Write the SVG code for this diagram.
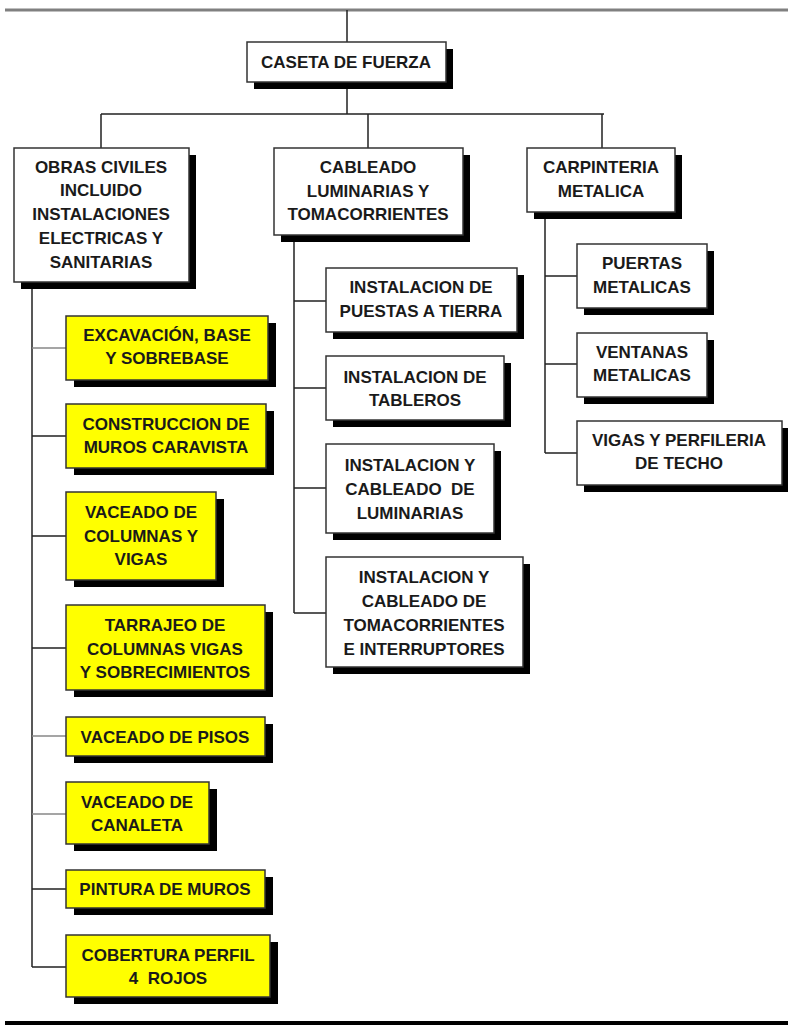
<svg xmlns="http://www.w3.org/2000/svg" width="788" height="1028" viewBox="0 0 788 1028">
<style>
.box{fill:#fff;stroke:#333;stroke-width:1.5}
.y{fill:#ffff00}
.sh{fill:#000}
.t{font-family:"Liberation Sans",Arial,sans-serif;font-weight:bold;font-size:17px;fill:#1a1a1a;text-anchor:middle}
.c{fill:none;stroke:#222;stroke-width:1.5}
.g{stroke:#888}
</style>
<rect width="788" height="1028" fill="#fff"/>
<g id="connectors">
<line x1="5" y1="10" x2="788" y2="10" stroke="#808080" stroke-width="3"/>
<line x1="5" y1="1023" x2="788" y2="1023" stroke="#000" stroke-width="4"/>
<path class="c" d="M347 10V42M347 82V114M101 114H604M101 114V148M368 114V148M602 114V148"/>
<path class="c" d="M32 282V967M32 436H66M32 536H66M32 648H66M32 889H66M32 967H66"/>
<path class="c g" d="M32 348H66M32 736H66M32 814H66"/>
<path class="c" d="M294 235V613M294 301H326M294 388H326M294 488H326M294 613H326"/>
<path class="c" d="M545 212V453M545 276H577M545 364H577M545 453H577"/>
</g>
<g id="caseta"><rect class="sh" x="254" y="49" width="199" height="40"/><rect class="box" x="247" y="42" width="199" height="40"/><text class="t" x="346" y="68">CASETA DE FUERZA</text></g>
<g id="obras"><rect class="sh" x="21" y="155" width="175" height="134"/><rect class="box" x="14" y="148" width="175" height="134"/><text class="t" x="101" y="173">OBRAS CIVILES</text><text class="t" x="101" y="196">INCLUIDO</text><text class="t" x="101" y="220">INSTALACIONES</text><text class="t" x="101" y="244">ELECTRICAS Y</text><text class="t" x="101" y="268">SANITARIAS</text></g>
<g id="cableado"><rect class="sh" x="281" y="155" width="189" height="87"/><rect class="box" x="274" y="148" width="189" height="87"/><text class="t" x="368" y="173">CABLEADO</text><text class="t" x="368" y="197">LUMINARIAS Y</text><text class="t" x="368" y="220">TOMACORRIENTES</text></g>
<g id="carpinteria"><rect class="sh" x="534" y="155" width="148" height="64"/><rect class="box" x="527" y="148" width="148" height="64"/><text class="t" x="601" y="173">CARPINTERIA</text><text class="t" x="601" y="197">METALICA</text></g>
<g id="excavacion"><rect class="sh" x="74" y="323" width="202" height="64"/><rect class="box y" x="66" y="316" width="202" height="64"/><text class="t" x="167" y="341">EXCAVACIÓN, BASE</text><text class="t" x="167" y="364">Y SOBREBASE</text></g>
<g id="construccion"><rect class="sh" x="74" y="411" width="200" height="64"/><rect class="box y" x="66" y="404" width="200" height="64"/><text class="t" x="166" y="430">CONSTRUCCION DE</text><text class="t" x="166" y="453">MUROS CARAVISTA</text></g>
<g id="vaceado-columnas"><rect class="sh" x="74" y="499" width="150" height="88"/><rect class="box y" x="66" y="492" width="150" height="88"/><text class="t" x="141" y="518">VACEADO DE</text><text class="t" x="141" y="542">COLUMNAS Y</text><text class="t" x="141" y="565">VIGAS</text></g>
<g id="tarrajeo"><rect class="sh" x="74" y="612" width="199" height="85"/><rect class="box y" x="66" y="605" width="199" height="85"/><text class="t" x="165" y="631">TARRAJEO DE</text><text class="t" x="165" y="655">COLUMNAS VIGAS</text><text class="t" x="165" y="678">Y SOBRECIMIENTOS</text></g>
<g id="pisos"><rect class="sh" x="74" y="724" width="199" height="39"/><rect class="box y" x="66" y="717" width="199" height="39"/><text class="t" x="165" y="743">VACEADO DE PISOS</text></g>
<g id="canaleta"><rect class="sh" x="74" y="789" width="143" height="62"/><rect class="box y" x="66" y="782" width="143" height="62"/><text class="t" x="137" y="808">VACEADO DE</text><text class="t" x="137" y="831">CANALETA</text></g>
<g id="pintura"><rect class="sh" x="74" y="877" width="199" height="38"/><rect class="box y" x="66" y="870" width="199" height="38"/><text class="t" x="165" y="895">PINTURA DE MUROS</text></g>
<g id="cobertura"><rect class="sh" x="74" y="942" width="204" height="62"/><rect class="box y" x="66" y="935" width="204" height="62"/><text class="t" x="168" y="961">COBERTURA PERFIL</text><text class="t" x="168" y="984" xml:space="preserve">4  ROJOS</text></g>
<g id="puestas"><rect class="sh" x="333" y="275" width="191" height="64"/><rect class="box" x="326" y="268" width="191" height="64"/><text class="t" x="421" y="293">INSTALACION DE</text><text class="t" x="421" y="317">PUESTAS A TIERRA</text></g>
<g id="tableros"><rect class="sh" x="333" y="363" width="178" height="64"/><rect class="box" x="326" y="356" width="178" height="64"/><text class="t" x="415" y="383">INSTALACION DE</text><text class="t" x="415" y="406">TABLEROS</text></g>
<g id="luminarias"><rect class="sh" x="333" y="451" width="168" height="89"/><rect class="box" x="326" y="444" width="168" height="89"/><text class="t" x="410" y="471">INSTALACION Y</text><text class="t" x="410" y="495" xml:space="preserve">CABLEADO  DE</text><text class="t" x="410" y="519">LUMINARIAS</text></g>
<g id="tomacorrientes"><rect class="sh" x="333" y="564" width="197" height="110"/><rect class="box" x="326" y="557" width="197" height="110"/><text class="t" x="424" y="583">INSTALACION Y</text><text class="t" x="424" y="607">CABLEADO DE</text><text class="t" x="424" y="631">TOMACORRIENTES</text><text class="t" x="424" y="655">E INTERRUPTORES</text></g>
<g id="puertas"><rect class="sh" x="584" y="251" width="130" height="64"/><rect class="box" x="577" y="244" width="130" height="64"/><text class="t" x="642" y="269">PUERTAS</text><text class="t" x="642" y="293">METALICAS</text></g>
<g id="ventanas"><rect class="sh" x="584" y="340" width="130" height="64"/><rect class="box" x="577" y="333" width="130" height="64"/><text class="t" x="642" y="358">VENTANAS</text><text class="t" x="642" y="381">METALICAS</text></g>
<g id="vigas"><rect class="sh" x="584" y="428" width="205" height="64"/><rect class="box" x="577" y="421" width="205" height="64"/><text class="t" x="679" y="446">VIGAS Y PERFILERIA</text><text class="t" x="679" y="469">DE TECHO</text></g>
</svg>
